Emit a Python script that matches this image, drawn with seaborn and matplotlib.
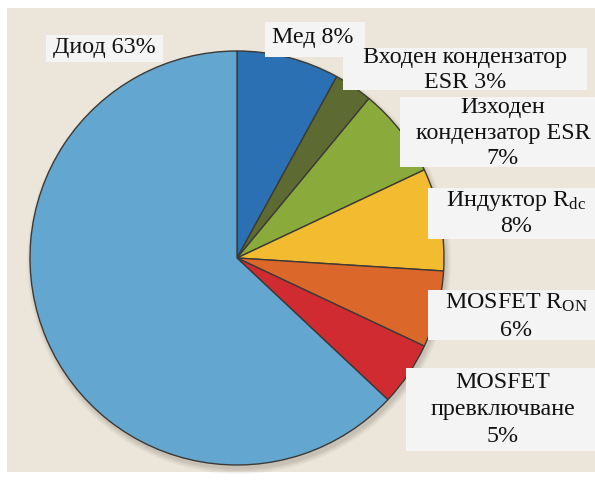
import matplotlib
matplotlib.use("Agg")
import matplotlib.pyplot as plt
from matplotlib.patches import Rectangle, Circle
import seaborn as sns

# ---- data ----
categories = ["Мед", "Входен кондензатор ESR", "Изходен кондензатор ESR",
              "Индуктор Rdc", "MOSFET RON", "MOSFET превключване", "Диод"]
values = [8, 3, 7, 8, 6, 5, 63]
label_lines = [
    ["Мед 8%"],
    ["Входен кондензатор", "ESR 3%"],
    ["Изходен", "кондензатор ESR", "7%"],
    [r"Индуктор $\mathrm{R_{dc}}$", "8%"],
    [r"MOSFET $\mathrm{R_{ON}}$", "6%"],
    ["MOSFET", "превключване", "5%"],
    ["Диод 63%"],
]

# ---- style ----
sns.set_theme(style="white")
plt.rcParams["font.family"] = ["Liberation Serif", "DejaVu Serif"]
plt.rcParams["mathtext.fontset"] = "custom"
plt.rcParams["mathtext.rm"] = "Liberation Serif"

colors = ["#2a70b3", "#5d6b33", "#8aab3b", "#f2bb30", "#dc672b", "#cf2b31", "#63a6cf"]
bg = "#ece5da"
boxc = "#f3f4f3"

W, H = 595, 480
fig = plt.figure(figsize=(W / 100, H / 100), dpi=100, facecolor="white")
ax = fig.add_axes([0, 0, 1, 1])
ax.set_xlim(0, W)
ax.set_ylim(0, H)
ax.set_aspect("equal")
ax.axis("off")

def Y(p):
    return H - p

# beige panel
ax.add_patch(Rectangle((7, Y(472)), W - 7, 464, facecolor=bg, edgecolor="none", zorder=0))

cx, cy, r = 237, Y(258), 207
# soft shadow
for i, a in enumerate([0.05, 0.06, 0.07, 0.08]):
    ax.add_patch(Circle((cx + 2, cy - 4), r + 5 - i * 1.5, facecolor="#5a5040",
                        edgecolor="none", alpha=a, zorder=1))

ax.pie(values, colors=colors, startangle=90, counterclock=False,
       center=(cx, cy), radius=r, frame=True,
       wedgeprops=dict(edgecolor="#3d3a36", linewidth=1.0, zorder=2))
ax.set_xlim(0, W)
ax.set_ylim(0, H)
ax.axis("off")

# label boxes (pixel coords: x0, y0, x1, y1)
boxes = [
    (265, 22, 365, 57),
    (343, 48, 587, 90),
    (400, 97, 595, 167),
    (428, 188, 595, 239),
    (428, 290, 595, 340),
    (406, 368, 595, 451),
    (46, 35, 163, 62),
]
text_pos = [
    (313, [38]),
    (465, [58, 83]),
    (503, [107, 133, 159]),
    (516, [201, 227]),
    (516, [303, 330]),
    (503, [383, 410, 437]),
    (104, [48]),
]
fs = 17.3
for (x0, y0, x1, y1), (tx, tys), lines in zip(boxes, text_pos, label_lines):
    ax.add_patch(Rectangle((x0, Y(y1)), x1 - x0, y1 - y0, facecolor=boxc,
                           edgecolor="none", zorder=3))
    for ty, ln in zip(tys, lines):
        ax.text(tx, Y(ty), ln, ha="center", va="center", fontsize=fs,
                color="#111111", zorder=4)

fig.savefig("out.png", dpi=100, facecolor="white")
